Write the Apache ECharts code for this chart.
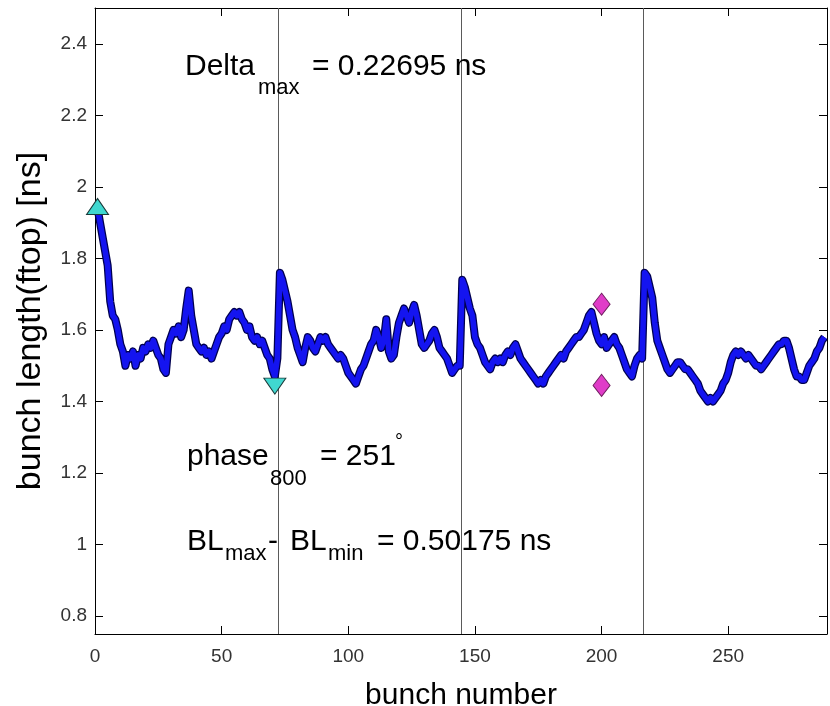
<!DOCTYPE html>
<html><head><meta charset="utf-8">
<script src="https://cdn.jsdelivr.net/npm/echarts@6/dist/echarts.min.js"></script>
<style>html,body{margin:0;padding:0;background:#fff}#c{width:830px;height:706px}</style>
</head><body><div id="c"></div>
<script>
// bunch length (ftop) [ns] for bunches 1..288
const bunchLength = [
 1.94,1.90,1.86,1.82,1.78,1.68,1.64,1.63,1.60,1.56,1.54,1.50,
 1.53,1.52,1.54,1.50,1.53,1.52,1.55,1.54,1.56,1.55,1.57,1.55,
 1.53,1.52,1.49,1.48,1.56,1.58,1.60,1.59,1.61,1.58,1.60,1.66,
 1.71,1.64,1.60,1.56,1.55,1.54,1.55,1.53,1.54,1.52,1.54,1.56,
 1.58,1.59,1.61,1.60,1.63,1.64,1.65,1.64,1.65,1.63,1.62,1.60,
 1.61,1.58,1.57,1.58,1.56,1.57,1.55,1.53,1.52,1.49,1.47,1.52,
 1.76,1.74,1.71,1.68,1.64,1.60,1.58,1.55,1.53,1.51,1.55,1.58,
 1.57,1.55,1.54,1.56,1.58,1.57,1.58,1.56,1.55,1.54,1.53,1.52,
 1.53,1.52,1.50,1.48,1.47,1.46,1.45,1.47,1.49,1.50,1.52,1.54,
 1.56,1.57,1.60,1.58,1.55,1.57,1.63,1.54,1.52,1.53,1.58,1.62,
 1.64,1.66,1.64,1.62,1.65,1.67,1.64,1.60,1.56,1.55,1.56,1.57,
 1.59,1.60,1.58,1.55,1.54,1.53,1.52,1.50,1.48,1.49,1.50,1.50,
 1.74,1.72,1.69,1.66,1.64,1.58,1.56,1.55,1.53,1.51,1.50,1.49,
 1.51,1.52,1.51,1.52,1.51,1.53,1.54,1.53,1.55,1.56,1.54,1.52,
 1.51,1.50,1.49,1.48,1.47,1.46,1.45,1.46,1.45,1.47,1.48,1.49,
 1.50,1.51,1.52,1.53,1.52,1.54,1.55,1.56,1.57,1.58,1.58,1.59,
 1.60,1.62,1.64,1.65,1.62,1.59,1.57,1.56,1.58,1.55,1.56,1.57,
 1.58,1.56,1.55,1.53,1.51,1.49,1.48,1.47,1.50,1.52,1.53,1.52,
 1.76,1.75,1.72,1.69,1.62,1.57,1.55,1.53,1.51,1.49,1.48,1.49,
 1.50,1.51,1.51,1.50,1.49,1.49,1.48,1.47,1.46,1.45,1.43,1.42,
 1.41,1.40,1.41,1.40,1.41,1.42,1.43,1.45,1.46,1.48,1.51,1.53,
 1.54,1.53,1.54,1.53,1.52,1.53,1.52,1.51,1.50,1.50,1.49,1.50,
 1.51,1.52,1.53,1.54,1.55,1.56,1.56,1.57,1.57,1.55,1.52,1.49,
 1.47,1.47,1.46,1.46,1.48,1.50,1.51,1.52,1.54,1.55,1.57,1.58
];
const bunchNumbers = bunchLength.map((_, i) => i + 1);

// BL max / BL min markers (cyan triangles)
const blExtremaBunch = [1, 71];
const blExtremaValue = [1.945, 1.443];
// Delta max markers (magenta diamonds)
const deltaBunch = [200, 200];
const deltaValue = [1.672, 1.445];
// train boundaries (vertical lines)
const trainBoundaries = [72.5, 144.5, 216.5];

const xTicks = [0, 50, 100, 150, 200, 250];
const yTicks = [0.8, 1, 1.2, 1.4, 1.6, 1.8, 2, 2.2, 2.4];
const xRange = [0, 289];
const yRange = [0.75, 2.5];

const FONT = '"Liberation Sans", Arial, sans-serif';

const lineData = bunchNumbers.map((b, i) => [b, bunchLength[i]]);

const chart = echarts.init(document.getElementById('c'), null, {renderer: 'canvas'});

function txt(text, x, baseline, size) {
  return {
    type: 'text', x: x, y: baseline - 0.3465 * size, z: 100,
    style: {
      text: text, fontSize: size, fontFamily: FONT, fill: '#000',
      align: 'left', verticalAlign: 'middle',
      textAlign: 'left', textVerticalAlign: 'middle'
    }
  };
}

const axisLine = {show: true, onZero: false, lineStyle: {color: '#000', width: 1}};

chart.setOption({
  animation: false,
  backgroundColor: '#fff',
  grid: {left: 95, right: 3, top: 8, bottom: 72, containLabel: false, outerBoundsMode: 'none'},
  xAxis: [{
    type: 'value', min: xRange[0], max: xRange[1], position: 'bottom',
    name: 'bunch number', nameLocation: 'middle', nameGap: 47,
    nameTextStyle: {fontSize: 30, fontFamily: FONT, color: '#000'},
    axisLine: axisLine,
    axisTick: {show: true, inside: true, length: 8, customValues: xTicks, lineStyle: {color: '#000'}},
    axisLabel: {show: true, customValues: xTicks, margin: 13, fontSize: 19, fontFamily: FONT, color: '#333'},
    splitLine: {show: false}
  }, {
    type: 'value', min: xRange[0], max: xRange[1], position: 'top',
    axisLine: axisLine,
    axisTick: {show: true, inside: true, length: 8, customValues: xTicks, lineStyle: {color: '#000'}},
    axisLabel: {show: false},
    splitLine: {show: false}
  }],
  yAxis: [{
    type: 'value', min: yRange[0], max: yRange[1], position: 'left',
    name: 'bunch length(ftop) [ns]', nameLocation: 'middle', nameGap: 47,
    nameTextStyle: {fontSize: 34, fontFamily: FONT, color: '#000'},
    axisLine: axisLine,
    axisTick: {show: true, inside: true, length: 8, customValues: yTicks, lineStyle: {color: '#000'}},
    axisLabel: {show: true, customValues: yTicks, margin: 8, fontSize: 19, fontFamily: FONT, color: '#333'},
    splitLine: {show: false}
  }, {
    type: 'value', min: yRange[0], max: yRange[1], position: 'right',
    axisLine: axisLine,
    axisTick: {show: true, inside: true, length: 8, customValues: yTicks, lineStyle: {color: '#000'}},
    axisLabel: {show: false},
    splitLine: {show: false}
  }],
  series: [{
    type: 'line', name: 'outline', data: lineData, showSymbol: false, z: 2,
    lineStyle: {color: '#000050', width: 8, join: 'round'},
    markLine: {
      silent: true, symbol: 'none', label: {show: false}, z: 1,
      lineStyle: {color: '#5a5a5a', width: 1, type: 'solid'},
      data: trainBoundaries.map(v => ({xAxis: v}))
    }
  }, {
    type: 'line', name: 'bunch length', data: lineData, showSymbol: false, z: 3,
    lineStyle: {color: '#1414f0', width: 5.5, join: 'round'}
  }, {
    type: 'scatter', name: 'BL extrema', z: 5, clip: false,
    data: blExtremaBunch.map((b, i) => ({
      value: [b, blExtremaValue[i]],
      symbolRotate: i === 0 ? 0 : 180
    })),
    symbol: 'triangle', symbolSize: [22, 16],
    itemStyle: {color: '#40d8d0', borderColor: '#1a3a3a', borderWidth: 1, opacity: 1}
  }, {
    type: 'scatter', name: 'Delta', z: 5, clip: false,
    data: deltaBunch.map((b, i) => [b, deltaValue[i]]),
    symbol: 'diamond', symbolSize: [17, 22],
    itemStyle: {color: '#e03cc8', borderColor: '#702060', borderWidth: 1, opacity: 1}
  }],
  graphic: [
    txt('Delta', 185, 77, 30),
    txt('max', 258, 96, 22),
    txt('= 0.22695 ns', 312, 77, 30),
    txt('phase', 187, 467, 30),
    txt('800', 270, 487, 22),
    txt('= 251', 320, 467, 30),
    txt('°', 395, 449, 20),
    txt('BL', 187, 552, 30),
    txt('max', 225, 562, 22),
    txt('-', 268, 552, 30),
    txt('BL', 290, 552, 30),
    txt('min', 328, 562, 22),
    txt('= 0.50175 ns', 377, 552, 30)
  ]
});
</script>
</body></html>
